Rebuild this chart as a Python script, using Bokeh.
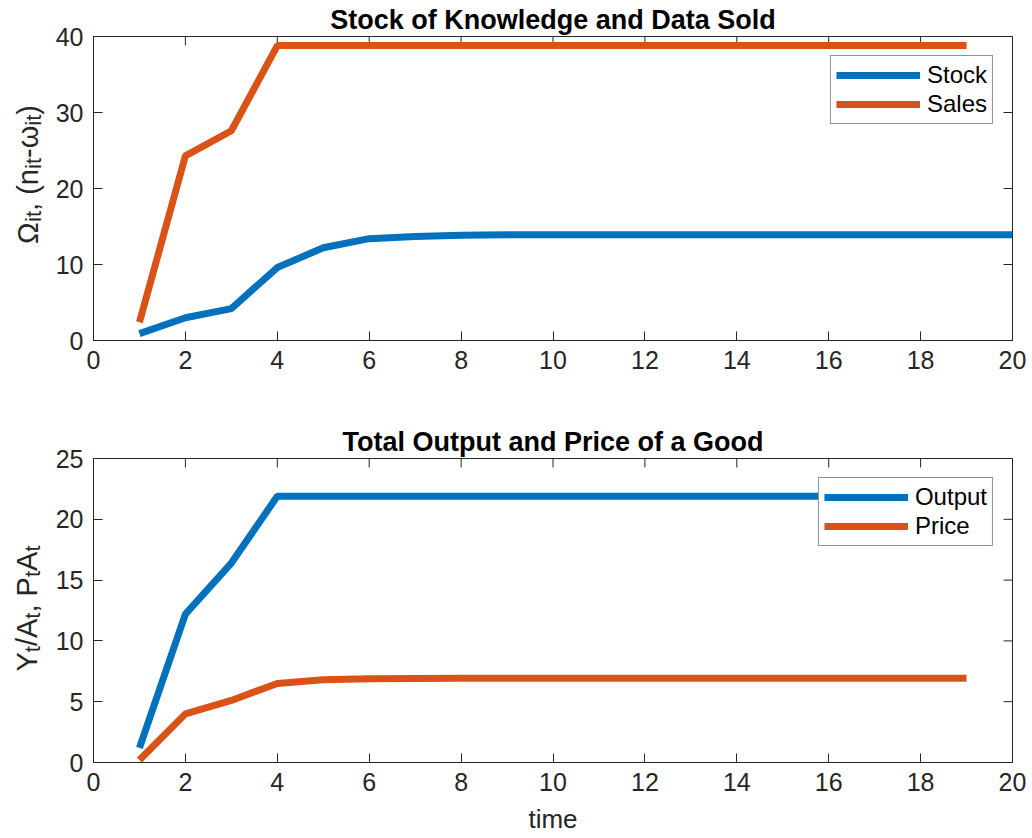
import numpy as np
from bokeh.plotting import figure
from bokeh.models import Range1d, Legend, LegendItem, FixedTicker
from bokeh.core.properties import value
from bokeh.layouts import column, row
from bokeh.embed import file_html
from bokeh.resources import INLINE

# ---------------- data ----------------
t_stock = list(range(1, 21))
stock = [0.9, 3.0, 4.2, 9.6, 12.2, 13.4, 13.7, 13.85, 13.9, 13.9,
         13.9, 13.9, 13.9, 13.9, 13.9, 13.9, 13.9, 13.9, 13.9, 13.9]
t_sales = list(range(1, 20))
sales = [2.4, 24.3, 27.6, 38.8, 38.8, 38.8, 38.8, 38.8, 38.8, 38.8,
         38.8, 38.8, 38.8, 38.8, 38.8, 38.8, 38.8, 38.8, 38.8]

t_out = list(range(1, 20))
output = [1.2, 12.2, 16.4, 21.9, 21.9, 21.9, 21.9, 21.9, 21.9, 21.9,
          21.9, 21.9, 21.9, 21.9, 21.9, 21.9, 21.9, 21.9, 21.9]
price = [0.2, 4.0, 5.1, 6.5, 6.8, 6.88, 6.9, 6.92, 6.92, 6.92,
         6.92, 6.92, 6.92, 6.92, 6.92, 6.92, 6.92, 6.92, 6.92]

x_ticks = [0, 2, 4, 6, 8, 10, 12, 14, 16, 18, 20]
y_ticks_top = [0, 10, 20, 30, 40]
y_ticks_bot = [0, 5, 10, 15, 20, 25]

titles = ["Stock of Knowledge and Data Sold", "Total Output and Price of a Good"]
top_names = ["Stock", "Sales"]
bot_names = ["Output", "Price"]
x_label = "time"
ylab_top = [("Ω", False), ("it", True), (", (n", False), ("it", True),
            ("-ω", False), ("it", True), (")", False)]
ylab_bot = [("Y", False), ("t", True), ("/A", False), ("t", True),
            (", P", False), ("t", True), ("A", False), ("t", True)]

BLUE = "#0072BD"
ORANGE = "#D95319"
AX = "#262626"
FONT = "Liberation Sans"
TICK_FS = "25px"
LAB_FS = 29
SUB_FS = 22

FW, FH = 919, 304
LW = 45            # width of the y-label strip
LEFT = 93          # frame left edge on the page
RIGHT = 16


def make_fig(title, ymax, yticks, top_border, bottom_border):
    p = figure(frame_width=FW, frame_height=FH,
               x_range=Range1d(0, 20), y_range=Range1d(0, ymax),
               output_backend="svg", toolbar_location=None,
               min_border_left=LEFT - LW, min_border_right=RIGHT,
               min_border_top=top_border, min_border_bottom=bottom_border)
    p.title.text = title
    p.title.text_font = FONT
    p.title.text_font_size = "27px"
    p.title.text_font_style = "bold"
    p.title.align = "center"
    p.title.text_color = "#000000"
    p.title.standoff = 3
    p.xgrid.visible = False
    p.ygrid.visible = False
    p.outline_line_color = AX
    p.outline_line_width = 1
    p.outline_line_alpha = 1
    for ax in p.xaxis + p.yaxis:
        ax.axis_line_color = AX
        ax.major_tick_line_color = AX
        ax.major_tick_in = 9
        ax.major_tick_out = 0
        ax.minor_tick_line_color = None
        ax.major_label_text_font = FONT
        ax.major_label_text_font_size = TICK_FS
        ax.major_label_text_color = AX
        ax.major_label_standoff = 10
    p.xaxis.ticker = FixedTicker(ticks=x_ticks)
    p.yaxis.ticker = FixedTicker(ticks=yticks)
    # inward ticks on the right and top edges of the box (clipped half-dashes)
    p.scatter([20] * len(yticks), yticks, marker="dash", size=18,
              line_color=AX, line_width=1)
    p.scatter(x_ticks, [ymax] * len(x_ticks), marker="dash", size=18,
              angle=np.pi / 2, line_color=AX, line_width=1)
    return p


def label_strip(top_border, bottom_border, pieces, base_x, center_dy):
    # the strip's frame lines up with the neighbouring plot frame;
    # its data units are pixels measured up from the frame bottom
    q = figure(frame_width=LW, frame_height=FH,
               x_range=Range1d(0, LW), y_range=Range1d(0, FH),
               output_backend="svg", toolbar_location=None, title=None,
               x_axis_location=None, y_axis_location=None, min_border=0,
               min_border_top=top_border, min_border_bottom=bottom_border)
    q.xgrid.visible = False
    q.ygrid.visible = False
    q.outline_line_color = None
    em = {"Ω": 0.76, "ω": 0.78, ",": 0.278, " ": 0.278, "(": 0.333, ")": 0.333,
          "n": 0.556, "-": 0.333, "i": 0.222, "t": 0.278, "Y": 0.667, "/": 0.278,
          "A": 0.667, "P": 0.667}
    widths = []
    for txt, sub in pieces:
        fs = SUB_FS if sub else LAB_FS
        widths.append(sum(em.get(c, 0.556) for c in txt) * fs)
    total = sum(widths)
    pos = center_dy - total / 2.0
    for (txt, sub), w in zip(pieces, widths):
        fs = SUB_FS if sub else LAB_FS
        q.text(x=[base_x + (6 if sub else 0)], y=[pos], text=[txt],
               angle=np.pi / 2, text_font=value(FONT),
               text_font_size=f"{fs}px", text_color=AX,
               text_align="left", text_baseline="alphabetic")
        pos += w
    return q


# ---------------- top ----------------
H1_TOP, H1_BOT = 36, 50
p1 = make_fig(titles[0], 40, y_ticks_top, H1_TOP, H1_BOT)
r1 = p1.line(t_stock, stock, line_color=BLUE, line_width=7)
r2 = p1.line(t_sales, sales, line_color=ORANGE, line_width=7)

# ---------------- bottom ----------------
H2_TOP, H2_BOT = 68, 76
p2 = make_fig(titles[1], 25, y_ticks_bot, H2_TOP, H2_BOT)
r3 = p2.line(t_out, output, line_color=BLUE, line_width=7)
r4 = p2.line(t_out, price, line_color=ORANGE, line_width=7)
xb = p2.below[0]
xb.axis_label = x_label
xb.axis_label_text_font = FONT
xb.axis_label_text_font_size = "26px"
xb.axis_label_text_font_style = "normal"
xb.axis_label_text_color = AX
xb.axis_label_standoff = 10


def style_legend(p, items):
    lg = Legend(items=items, location="top_right")
    lg.label_text_font = FONT
    lg.label_text_font_size = "24px"
    lg.label_text_color = "#000000"
    lg.glyph_width = 84
    lg.glyph_height = 20
    lg.label_height = 20
    lg.spacing = 1
    lg.padding = 5
    lg.margin = 19
    lg.label_standoff = 7
    lg.border_line_color = AX
    lg.border_line_width = 1
    lg.background_fill_color = "white"
    lg.background_fill_alpha = 1.0
    p.add_layout(lg)


style_legend(p1, [LegendItem(label=top_names[0], renderers=[r1]),
                  LegendItem(label=top_names[1], renderers=[r2])])
style_legend(p2, [LegendItem(label=bot_names[0], renderers=[r3]),
                  LegendItem(label=bot_names[1], renderers=[r4])])

# label centres, in px above each frame's bottom edge
s1 = label_strip(H1_TOP, H1_BOT, ylab_top, 27, 340 - 174)
s2 = label_strip(H2_TOP, H2_BOT, ylab_bot, 26, 762 - 608)

layout = column(row(s1, p1, spacing=0), row(s2, p2, spacing=0), spacing=0)
open("out.html", "w").write(file_html(layout, INLINE))
